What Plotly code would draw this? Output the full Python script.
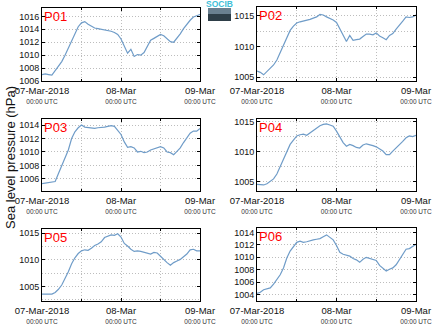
import plotly.graph_objects as go
import pandas as pd

W, H = 434, 327
times = pd.date_range("2018-03-07 00:00", periods=49, freq="h")

station_names = ["P01", "P02", "P03", "P04", "P05", "P06"]

p01 = [1007.0, 1007.1, 1007.0, 1006.9, 1007.6, 1008.3, 1009.0, 1010.0, 1011.1, 1012.2,
       1013.3, 1014.4, 1015.0, 1015.2, 1014.8, 1014.5, 1014.2, 1014.1, 1014.0, 1013.9,
       1013.9, 1013.7, 1013.5, 1013.2, 1012.5, 1011.4, 1010.3, 1010.9, 1009.8, 1010.1,
       1010.0, 1010.4, 1011.4, 1012.3, 1012.6, 1012.9, 1013.2, 1013.0, 1012.6, 1012.1,
       1012.0, 1012.6, 1013.3, 1014.1, 1014.8, 1015.4, 1015.9, 1016.1, 1016.3]
p02 = [1006.0, 1005.8, 1005.4, 1005.9, 1006.4, 1007.0, 1007.8, 1009.0, 1010.2, 1011.4,
       1012.6, 1013.3, 1013.8, 1014.0, 1014.1, 1014.2, 1014.4, 1014.6, 1014.8, 1015.2,
       1015.1, 1014.8, 1014.6, 1014.3, 1013.9, 1012.8, 1011.8, 1010.8, 1011.8, 1011.0,
       1011.1, 1011.2, 1011.6, 1012.0, 1012.0, 1011.9, 1012.2, 1011.7, 1011.4, 1011.1,
       1011.8, 1012.1, 1012.8, 1013.4, 1014.1, 1014.8, 1014.7, 1014.8, 1015.1]
p03 = [1005.3, 1005.4, 1005.5, 1005.6, 1005.6, 1006.8, 1008.0, 1009.0, 1010.3, 1012.0,
       1013.0, 1013.6, 1014.0, 1013.7, 1013.6, 1013.6, 1013.5, 1013.6, 1013.6, 1013.7,
       1013.8, 1013.9, 1013.8, 1013.2, 1012.6, 1011.5, 1010.7, 1010.8, 1010.6, 1010.0,
       1010.1, 1009.9, 1010.0, 1010.3, 1010.5, 1010.6, 1010.8, 1010.6, 1010.0, 1009.9,
       1009.6, 1010.1, 1010.6, 1011.4, 1012.2, 1012.8, 1013.1, 1013.1, 1013.5]
p04 = [1004.6, 1004.5, 1004.5, 1004.7, 1005.1, 1005.5, 1006.3, 1007.5, 1008.7, 1010.0,
       1011.2, 1011.9, 1012.6, 1012.8, 1012.9, 1012.7, 1013.1, 1013.5, 1013.8, 1014.3,
       1014.5, 1014.6, 1014.4, 1014.2, 1013.4, 1012.4, 1011.5, 1010.9, 1011.2, 1011.0,
       1010.7, 1010.6, 1011.1, 1011.3, 1011.2, 1011.0, 1010.8, 1010.4, 1010.1, 1009.5,
       1009.5, 1010.1, 1010.6, 1011.1, 1011.7, 1012.3, 1012.6, 1012.5, 1012.7]
p05 = [1003.6, 1003.6, 1003.6, 1003.6, 1003.9, 1004.5, 1005.3, 1006.5, 1007.8, 1009.3,
       1010.4, 1011.2, 1011.7, 1011.9, 1011.8, 1012.2, 1012.7, 1013.0, 1013.4, 1014.2,
       1014.4, 1014.7, 1014.6, 1014.9, 1014.3, 1013.1, 1012.6, 1012.0, 1011.6, 1011.7,
       1011.6, 1011.4, 1011.3, 1011.1, 1011.4, 1011.3, 1010.7, 1010.0, 1009.5, 1009.0,
       1009.5, 1009.8, 1010.1, 1010.6, 1011.1, 1011.9, 1012.0, 1011.7, 1011.7]
p06 = [1004.2, 1004.4, 1004.8, 1005.0, 1005.1, 1005.7, 1006.4, 1007.2, 1008.3, 1009.9,
       1011.0, 1011.8, 1012.4, 1012.6, 1012.4, 1012.5, 1012.7, 1012.8, 1012.9, 1013.0,
       1013.3, 1013.6, 1013.2, 1012.8, 1011.9, 1010.8, 1010.5, 1010.4, 1010.2, 1009.8,
       1009.6, 1009.2, 1009.7, 1010.0, 1009.8, 1009.6, 1009.5, 1008.7, 1008.2, 1007.8,
       1008.1, 1008.3, 1008.8, 1009.6, 1010.5, 1011.3, 1011.4, 1011.8, 1012.1]
series = [p01, p02, p03, p04, p05, p06]

y_ranges = [[1006.0, 1017.3], [1004.4, 1016.4], [1004.2, 1014.9],
            [1003.5, 1015.4], [1002.3, 1015.8], [1003.0, 1014.7]]
y_dticks = [2, 5, 2, 5, 5, 2]

x_tickvals = ["2018-03-07 00:00", "2018-03-08 00:00", "2018-03-09 00:00"]
x_ticktext = ["07-Mar-2018", "08-Mar", "09-Mar"]
x_sub = "00:00 UTC"

# panel pixel boxes (left, top, right, bottom)
boxes = [(42, 8, 200, 81), (257, 7, 416, 81),
         (42, 119, 200, 191), (257, 119, 416, 191),
         (42, 229, 200, 301), (257, 228, 416, 301)]

line_color = "#6f9cc8"
grid_color = "#bdbdbd"
grid_dash = "1px,2px"

fig = go.Figure()
layout = dict(width=W, height=H, margin=dict(l=0, r=0, t=0, b=0, autoexpand=False),
              paper_bgcolor="white", plot_bgcolor="white", showlegend=False,
              font=dict(family="Liberation Sans, Arial, sans-serif", size=9, color="#111"))
annotations = []
for i, (name, vals) in enumerate(zip(station_names, series)):
    k = i + 1
    xa = "x" if k == 1 else f"x{k}"
    ya = "y" if k == 1 else f"y{k}"
    fig.add_trace(go.Scatter(x=times, y=vals, mode="lines",
                             line=dict(color=line_color, width=1.2),
                             xaxis=xa, yaxis=ya, hoverinfo="skip"))
    l, t, r, b = boxes[i]
    ticktext = [f"<span style='font-size:9.5px'>{tt}</span><br>"
                f"<span style='font-size:6.5px;color:#333'>{x_sub}</span>" for tt in x_ticktext]
    layout["xaxis" if k == 1 else f"xaxis{k}"] = dict(
        domain=[l / W, r / W], anchor=ya, type="date", automargin=False,
        range=["2018-03-07 00:00", "2018-03-09 00:00"],
        tickmode="array", tickvals=x_tickvals, ticktext=ticktext,
        tickangle=0, tickfont=dict(size=7.6, color="#111"), ticklabelstandoff=3,
        showline=True, linecolor="black", linewidth=1, mirror="ticks",
        ticks="inside", ticklen=3, tickcolor="black",
        showgrid=True, gridcolor=grid_color, griddash=grid_dash, gridwidth=1,
        minor=dict(dtick=12 * 3600 * 1000, tick0="2018-03-07", showgrid=True,
                   gridcolor=grid_color, griddash=grid_dash, ticks="inside",
                   ticklen=2, tickcolor="black"),
        zeroline=False, fixedrange=True)
    layout["yaxis" if k == 1 else f"yaxis{k}"] = dict(
        domain=[1 - b / H, 1 - t / H], anchor=xa, automargin=False,
        range=y_ranges[i], dtick=y_dticks[i], tick0=1000,
        tickfont=dict(size=9, color="#111"),
        showline=True, linecolor="black", linewidth=1, mirror="ticks",
        ticks="inside", ticklen=3, tickcolor="black",
        showgrid=True, gridcolor=grid_color, griddash=grid_dash, gridwidth=1,
        minor=dict(dtick=y_dticks[i] / 2, tick0=1000,
                   showgrid=(y_dticks[i] == 5), gridcolor=grid_color, griddash=grid_dash,
                   ticks=""),
        zeroline=False, fixedrange=True)
    annotations.append(dict(text=name, xref=f"{xa} domain", yref=f"{ya} domain",
                            x=0.0, y=1.02, xanchor="left", yanchor="top",
                            showarrow=False, font=dict(size=13, color="#ff0000")))

annotations.append(dict(text="Sea level pressure (hPa)", xref="paper", yref="paper",
                        x=10 / W, y=1 - 158 / H, textangle=-90, showarrow=False,
                        xanchor="center", yanchor="middle",
                        font=dict(size=13, color="#111")))
annotations.append(dict(text="<b>SOCIB</b>", xref="paper", yref="paper",
                        x=219.5 / W, y=1 + 3 / H, xanchor="center", yanchor="top",
                        showarrow=False, font=dict(size=8.5, color="#3fc0d8")))
layout["annotations"] = annotations
layout["shapes"] = [
    dict(type="rect", xref="paper", yref="paper", x0=208 / W, x1=231 / W,
         y0=1 - 21 / H, y1=1 - 8 / H, fillcolor="#6a8090", line=dict(width=0)),
    dict(type="rect", xref="paper", yref="paper", x0=208 / W, x1=231 / W,
         y0=1 - 21 / H, y1=1 - 14 / H, fillcolor="#2e3e48", line=dict(width=0)),
]
fig.update_layout(**layout)
fig.write_html("out.html")
